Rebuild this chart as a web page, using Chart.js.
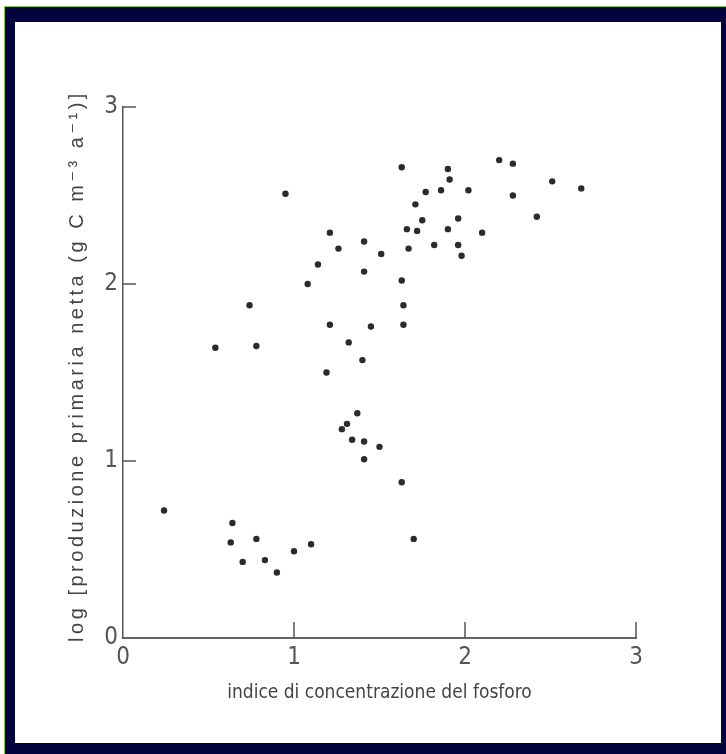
<!DOCTYPE html>
<html><head><meta charset="utf-8">
<script src="https://cdn.jsdelivr.net/npm/chart.js@4/dist/chart.umd.min.js"></script>
<style>
html,body{margin:0;padding:0;width:726px;height:754px;overflow:hidden;background:#fff}
#frame{position:absolute;left:4px;top:6px;width:722px;height:748px;background:#03023c;border-top:1px solid #7fcc44;border-left:1px solid #7fcc44;box-sizing:border-box}
#inner{position:absolute;left:15px;top:22px;width:706px;height:721px;background:#fff}
canvas{position:absolute;left:0;top:0}
</style></head><body>
<div id="frame"></div><div id="inner"></div>
<canvas id="c" width="726" height="754"></canvas>
<script>
const phosphorusIndex = [0.95,1.63,1.21,1.26,1.41,1.51,1.14,1.41,1.08,1.63,1.64,1.64,0.74,1.21,1.45,0.54,0.78,1.32,1.40,1.19,
  2.20,2.28,1.90,1.91,2.51,2.68,1.77,1.86,2.02,2.28,1.71,2.42,1.75,1.96,1.66,1.72,1.90,2.10,1.82,1.96,1.98,1.67,
  1.37,1.31,1.28,1.34,1.41,1.50,1.41,1.63,1.70,0.24,0.64,0.63,0.78,0.70,0.83,0.90,1.00,1.10];
const logProduction = [2.51,2.66,2.29,2.20,2.24,2.17,2.11,2.07,2.00,2.02,1.88,1.77,1.88,1.77,1.76,1.64,1.65,1.67,1.57,1.50,
  2.70,2.68,2.65,2.59,2.58,2.54,2.52,2.53,2.53,2.50,2.45,2.38,2.36,2.37,2.31,2.30,2.31,2.29,2.22,2.22,2.16,2.20,
  1.27,1.21,1.18,1.12,1.11,1.08,1.01,0.88,0.56,0.72,0.65,0.54,0.56,0.43,0.44,0.37,0.49,0.53];
const xTickLabels = ['0','1','2','3'];
const yTickLabels = ['0','1','2','3'];
const xTitle = 'indice di concentrazione del fosforo';
const yTitle = 'log [produzione primaria netta (g C m\u207B\u00B3 a\u207B\u00B9)]';

const numFont = '"Liberation Sans Narrow","DejaVu Sans Condensed","Liberation Sans",sans-serif';
const points = phosphorusIndex.map((x,i)=>({x:x, y:logProduction[i]}));

const extras = {
  id:'extras',
  afterDraw(chart){
    const {ctx, scales:{x,y}, chartArea:a} = chart;
    ctx.save();
    ctx.strokeStyle = '#555'; ctx.lineWidth = 1.5;
    x.ticks.forEach(t=>{ if(t.value===0) return; const px=x.getPixelForValue(t.value);
      ctx.beginPath(); ctx.moveTo(px,a.bottom); ctx.lineTo(px,a.bottom-16); ctx.stroke(); });
    y.ticks.forEach(t=>{ if(t.value===0) return; const py=y.getPixelForValue(t.value);
      ctx.beginPath(); ctx.moveTo(a.left,py); ctx.lineTo(a.left+13,py); ctx.stroke(); });
    // y title with letter spacing
    ctx.font = '20px "Liberation Sans","DejaVu Sans",sans-serif';
    const w0 = ctx.measureText(yTitle).width;
    const target = 552;
    const n = [...yTitle].length;
    const sp = Math.max(0,(target-w0)/n);
    ctx.letterSpacing = sp.toFixed(2)+'px';
    ctx.fillStyle = '#444';
    ctx.translate(77, 366);
    ctx.rotate(-Math.PI/2);
    ctx.textAlign = 'left'; ctx.textBaseline = 'middle';
    const w1 = ctx.measureText(yTitle).width;
    ctx.fillText(yTitle, -w1/2, 0);
    ctx.restore();
  }
};

new Chart(document.getElementById('c'), {
  type:'scatter',
  data:{datasets:[{data:points, pointRadius:3.2, pointBackgroundColor:'#2b2b2b', pointBorderWidth:0, pointHoverRadius:3.2}]},
  options:{
    responsive:false, animation:false, events:[],
    layout:{padding:{left:83, right:90, top:107, bottom:40}},
    plugins:{legend:{display:false}, tooltip:{enabled:false}},
    scales:{
      x:{type:'linear', min:0, max:3,
        afterFit(s){ s.height = 76; },
        grid:{display:true, drawOnChartArea:false, drawTicks:false},
        border:{display:true, color:'#666', width:2},
        ticks:{stepSize:1, padding:5, color:'#555', font:{family:numFont, size:24}, callback:v=>xTickLabels[Math.round(v)], maxRotation:0},
        title:{display:true, text:xTitle, color:'#444', font:{family:numFont, size:19}, padding:{top:6, bottom:10}}
      },
      y:{type:'linear', min:0, max:3,
        afterFit(s){ s.width = 40; },
        grid:{display:true, drawOnChartArea:false, drawTicks:false},
        border:{display:true, color:'#555', width:1.5},
        ticks:{stepSize:1, padding:5, color:'#555', font:{family:numFont, size:24}, callback:v=>yTickLabels[Math.round(v)]},
        title:{display:false}
      }
    }
  },
  plugins:[extras]
});
</script>
</body></html>
